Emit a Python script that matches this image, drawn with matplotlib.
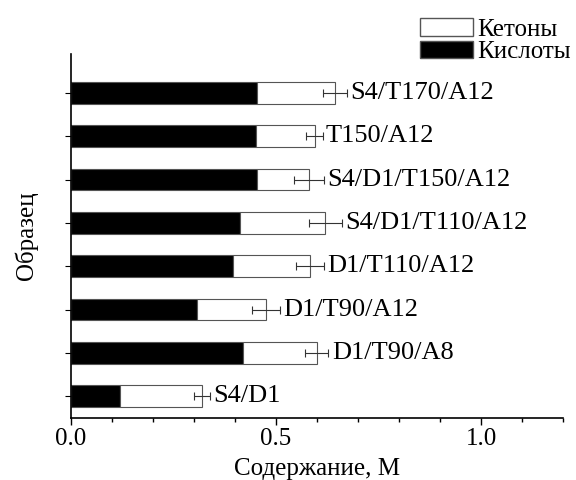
import matplotlib.pyplot as plt
from matplotlib.patches import Patch

plt.rcParams['font.family'] = ['Liberation Serif', 'DejaVu Serif']

# образцы снизу вверх
samples = ['S4/D1', 'D1/T90/A8', 'D1/T90/A12', 'D1/T110/A12',
           'S4/D1/T110/A12', 'S4/D1/T150/A12', 'T150/A12', 'S4/T170/A12']
acids = [0.120, 0.420, 0.308, 0.394, 0.411, 0.454, 0.450, 0.454]
ketones = [0.199, 0.179, 0.167, 0.189, 0.209, 0.127, 0.144, 0.190]
errors = [0.020, 0.029, 0.034, 0.035, 0.040, 0.036, 0.020, 0.029]

fig = plt.figure(figsize=(5.76, 4.8), dpi=100)
ax = fig.add_axes([0.1233, 0.1292, 0.8541, 0.7583])

y = list(range(len(samples)))
totals = [a + k for a, k in zip(acids, ketones)]

ax.barh(y, acids, height=0.5, color='black', edgecolor='#555555', linewidth=0.8)
ax.barh(y, ketones, height=0.5, left=acids, color='white', edgecolor='#555555', linewidth=0.8)
ax.errorbar(totals, y, xerr=errors, fmt='none', ecolor='#333333',
            elinewidth=0.8, capsize=3, capthick=0.8)

# подписи справа от столбцов
for yi, t, e, name in zip(y, totals, errors, samples):
    ax.text(t + e + 0.008, yi, name, va='center', ha='left', fontsize=19)

ax.set_xlim(0, 1.2)
ax.set_ylim(-0.5, 7.9)
ax.set_xticks([0, 0.5, 1.0])
ax.set_xticklabels(['0.0', '0.5', '1.0'])
ax.set_xticks([0.1, 0.2, 0.3, 0.4, 0.6, 0.7, 0.8, 0.9, 1.1, 1.2], minor=True)
ax.set_yticks(y)
ax.set_yticklabels([])
ax.tick_params(axis='x', which='major', direction='out', length=5, width=1, labelsize=18, pad=2)
ax.tick_params(axis='x', which='minor', direction='out', length=3, width=1)
ax.tick_params(axis='y', direction='out', length=4, width=0.8)

for side in ['top', 'right']:
    ax.spines[side].set_visible(False)
for side in ['left', 'bottom']:
    ax.spines[side].set_linewidth(1.2)

ax.set_xlabel('Содержание, M', fontsize=18, labelpad=6)
ax.set_ylabel('Образец', fontsize=18, labelpad=16)

handles = [Patch(facecolor='white', edgecolor='#555555', label='Кетоны'),
           Patch(facecolor='black', edgecolor='#555555', label='Кислоты')]
fig.legend(handles=handles, loc='upper left', bbox_to_anchor=(420 / 576, 1 - 18 / 480),
           frameon=False, fontsize=18, handlelength=2.1, handleheight=0.72,
           handletextpad=0.2, labelspacing=0.0, borderpad=0, borderaxespad=0)

fig.savefig('out.png', dpi=100)
